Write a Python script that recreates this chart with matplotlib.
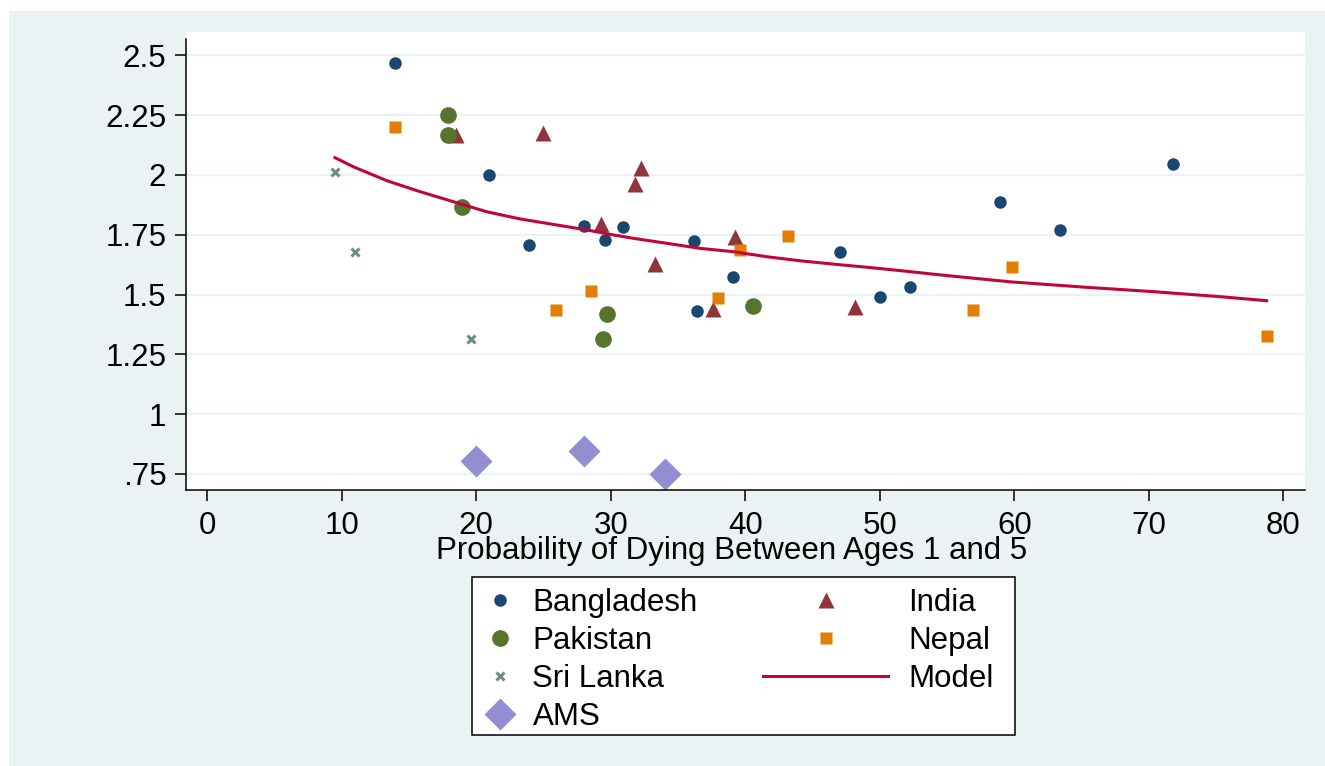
import matplotlib
matplotlib.use("Agg")
import matplotlib.pyplot as plt
from matplotlib.patches import Rectangle

plt.rcParams['font.family'] = ['Liberation Sans', 'DejaVu Sans']

# ---------------- data ----------------
bangladesh_x = [13.93, 20.93, 23.91, 28.01, 29.59, 30.92, 36.19, 36.42, 39.11,
                47.05, 50.0, 52.27, 58.95, 63.38, 71.77]
bangladesh_y = [2.467, 1.998, 1.707, 1.788, 1.728, 1.781, 1.724, 1.431, 1.573,
                1.678, 1.490, 1.533, 1.885, 1.768, 2.047]

india_x = [18.51, 24.94, 32.24, 31.82, 29.27, 33.30, 39.24, 37.63, 48.12]
india_y = [2.167, 2.177, 2.030, 1.961, 1.793, 1.628, 1.739, 1.438, 1.447]

pakistan_x = [17.88, 17.88, 18.92, 29.68, 29.39, 40.57]
pakistan_y = [2.249, 2.166, 1.867, 1.418, 1.314, 1.452]

nepal_x = [13.98, 25.93, 28.55, 37.95, 39.61, 43.15, 56.9, 59.80, 78.8]
nepal_y = [2.199, 1.434, 1.516, 1.484, 1.686, 1.743, 1.434, 1.616, 1.325]

srilanka_x = [9.50, 11.01, 19.64]
srilanka_y = [2.011, 1.678, 1.314]

ams_x = [20, 28, 34]
ams_y = [0.805, 0.845, 0.750]

model_x = [9.49, 10.86, 13.34, 15.81, 18.29, 20.77, 23.25, 25.73, 28.21, 30.19,
           31.67, 34.16, 36.63, 39.11, 41.59, 44.07, 46.54, 49.03, 51.5, 54.48,
           59.68, 65.38, 70.33, 75.29, 78.76]
model_y = [2.072, 2.034, 1.976, 1.930, 1.888, 1.846, 1.816, 1.793, 1.770, 1.749,
           1.735, 1.714, 1.693, 1.679, 1.658, 1.641, 1.627, 1.614, 1.600, 1.582,
           1.553, 1.530, 1.512, 1.491, 1.474]

x_ticks = [0, 10, 20, 30, 40, 50, 60, 70, 80]
y_ticks = [0.75, 1.0, 1.25, 1.5, 1.75, 2.0, 2.25, 2.5]
y_tick_labels = [".75", "1", "1.25", "1.5", "1.75", "2", "2.25", "2.5"]
x_label = "Probability of Dying Between Ages 1 and 5"

# ---------------- styling ----------------
W, H = 1325, 766
BG = "#EAF2F3"
FS = 22.5

fig = plt.figure(figsize=(W / 100, H / 100), dpi=100)
fig.patch.set_facecolor("white")
fig.add_artist(Rectangle((9 / W, 0), 1 - 9 / W, 1 - 11 / H,
                         transform=fig.transFigure, facecolor=BG,
                         edgecolor="none", zorder=-10))

ax = fig.add_axes([185.7 / W, 1 - 490 / H, (1305 - 185.7) / W, (490 - 32) / H])
ax.set_facecolor("white")
ax.set_xlim(-1.606, 81.61)
ax.set_ylim(0.6827, 2.5974)

for s in ["top", "right"]:
    ax.spines[s].set_visible(False)
for s in ["left", "bottom"]:
    ax.spines[s].set_linewidth(1.1)
    ax.spines[s].set_color("black")
ax.spines["left"].set_bounds(0.6827, 2.5669)

ax.set_xticks(x_ticks)
ax.set_yticks(y_ticks)
ax.set_yticklabels(y_tick_labels)
ax.tick_params(axis="both", labelsize=FS, length=8, width=1.1, colors="black")
ax.tick_params(axis="y", pad=6)
ax.tick_params(axis="x", pad=7)
ax.yaxis.grid(True, color=BG, linewidth=1.6)
ax.set_axisbelow(True)

h_ban, = ax.plot(bangladesh_x, bangladesh_y, "o", color="#1a476f", ms=9, mec="none", label="Bangladesh")
h_ind, = ax.plot(india_x, india_y, "^", color="#90353b", ms=11, mec="none", label="India")
h_pak, = ax.plot(pakistan_x, pakistan_y, "o", color="#55752f", ms=12, mec="none", label="Pakistan")
h_nep, = ax.plot(nepal_x, nepal_y, "s", color="#e37e00", ms=9, mec="none", label="Nepal")
h_sri, = ax.plot(srilanka_x, srilanka_y, "x", color="#6e8e84", ms=6, mew=2.2, label="Sri Lanka")
h_mod, = ax.plot(model_x, model_y, "-", color="#c10534", lw=2.2, label="Model")
h_ams, = ax.plot(ams_x, ams_y, "D", color="#938dd2", ms=16, mec="none", label="AMS")

ax.set_xlabel(x_label, fontsize=FS)
ax.xaxis.set_label_coords((732 - 185.7) / (1305 - 185.7), -0.101)

# ---------------- legend ----------------
fig.add_artist(Rectangle((472 / W, 1 - 735 / H), 543 / W, 158 / H,
                         transform=fig.transFigure, facecolor="white",
                         edgecolor="black", linewidth=1.1, zorder=1))

fs_px = FS * 100 / 72
leg1 = fig.legend(handles=[h_ban, h_pak, h_sri, h_ams], loc="upper left",
                  bbox_to_anchor=(482.5 / W, 1 - 588 / H), frameon=False,
                  fontsize=FS, borderpad=0, borderaxespad=0,
                  handlelength=35 / fs_px, handletextpad=15 / fs_px,
                  labelspacing=0.26, numpoints=1)
leg1.set_zorder(2)
leg2 = fig.legend(handles=[h_ind, h_nep, h_mod], loc="upper left",
                  bbox_to_anchor=(763 / W, 1 - 588 / H), frameon=False,
                  fontsize=FS, borderpad=0, borderaxespad=0,
                  handlelength=125 / fs_px, handletextpad=20 / fs_px,
                  labelspacing=0.26, numpoints=1)
leg2.set_zorder(2)

fig.savefig("out.png", dpi=100, facecolor=fig.get_facecolor())
